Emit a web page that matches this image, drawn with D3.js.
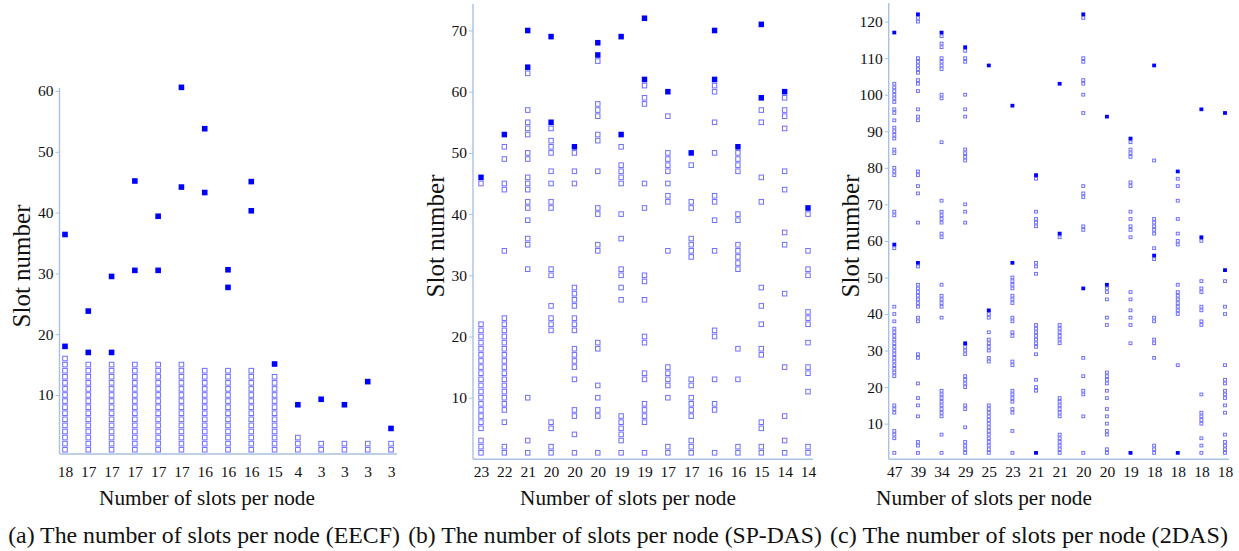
<!DOCTYPE html>
<html>
<head>
<meta charset="utf-8">
<script src="https://cdn.jsdelivr.net/npm/d3@7"></script>
<style>
body { margin: 0; background: #fff; }
svg { display: block; }
text { font-family: "Liberation Serif", "DejaVu Serif", "Noto Serif", "Tinos", "FreeSerif", "Times New Roman", Times, serif; fill: #111; }
</style>
</head>
<body>
<svg id="chart"></svg>
<script>
// ---- data ----
// (a) EECF
var labelsA = [18, 17, 17, 17, 17, 17, 16, 16, 16, 15, 4, 3, 3, 3, 3];
var filledA = [[18, 36.4], [17, 23.8], [17, 29.5], [30.5, 45.2], [30.5, 39.4], [44.2, 60.6],
    [43.3, 53.8], [27.7, 30.6], [40.3, 45.1], [15.1], [8.4], [9.3], [8.4], [12.2], [4.5]];
var hollowA = [
    [1, 2, 3, 4, 5, 6, 7, 8, 9, 10, 11, 12, 13, 14, 15, 16],
    [1, 2, 3, 4, 5, 6, 7, 8, 9, 10, 11, 12, 13, 14, 15],
    [1, 2, 3, 4, 5, 6, 7, 8, 9, 10, 11, 12, 13, 14, 15],
    [1, 2, 3, 4, 5, 6, 7, 8, 9, 10, 11, 12, 13, 14, 15],
    [1, 2, 3, 4, 5, 6, 7, 8, 9, 10, 11, 12, 13, 14, 15],
    [1, 2, 3, 4, 5, 6, 7, 8, 9, 10, 11, 12, 13, 14, 15],
    [1, 2, 3, 4, 5, 6, 7, 8, 9, 10, 11, 12, 13, 14],
    [1, 2, 3, 4, 5, 6, 7, 8, 9, 10, 11, 12, 13, 14],
    [1, 2, 3, 4, 5, 6, 7, 8, 9, 10, 11, 12, 13, 14],
    [1, 2, 3, 4, 5, 6, 7, 8, 9, 10, 11, 12, 13],
    [1, 2, 3], [1, 2], [1, 2], [1, 2], [1, 2]
];
var ticksA = [10, 20, 30, 40, 50, 60];

// (b) SP-DAS
var labelsB = [23, 22, 21, 20, 20, 20, 19, 19, 17, 17, 16, 16, 15, 14, 14];
var filledB = [[46], [53], [70, 64], [69, 55], [51], [68, 66], [69, 53], [72, 62], [60], [50],
    [70, 62], [51], [71, 59], [60], [41]];
var hollowB = [
    [45, 22, 21, 20, 19, 18, 17, 16, 15, 14, 13, 12, 11, 10, 9, 8, 7, 6, 5, 3, 2, 1],
    [51, 49, 45, 44, 34, 23, 22, 21, 20, 19, 18, 17, 16, 15, 14, 13, 12, 11, 10, 9, 8, 6, 2, 1],
    [63, 57, 55, 54, 53, 50, 49, 46, 45, 44, 42, 41, 39, 36, 35, 31, 10, 3, 1],
    [54, 52, 51, 50, 47, 45, 42, 41, 31, 30, 25, 23, 22, 21, 6, 5, 2, 1],
    [50, 47, 45, 28, 27, 26, 25, 23, 22, 21, 18, 17, 16, 15, 13, 8, 7, 4, 1],
    [65, 58, 57, 56, 53, 52, 47, 41, 40, 35, 34, 19, 18, 12, 10, 8, 7, 1],
    [51, 48, 47, 46, 45, 40, 36, 31, 30, 28, 26, 7, 6, 5, 4, 3, 1],
    [61, 59, 58, 45, 41, 30, 29, 26, 20, 19, 14, 13, 9, 8, 7, 6, 1],
    [56, 50, 49, 48, 47, 45, 43, 42, 34, 15, 14, 13, 12, 10, 2, 1],
    [48, 42, 41, 36, 35, 34, 33, 13, 12, 10, 9, 8, 7, 3, 2, 1],
    [61, 60, 55, 50, 43, 42, 39, 34, 21, 20, 13, 9, 8, 1],
    [50, 49, 48, 47, 40, 39, 35, 34, 33, 32, 31, 18, 13, 2, 1],
    [57, 55, 46, 42, 28, 25, 22, 18, 17, 6, 5, 2, 1],
    [59, 57, 56, 54, 47, 44, 37, 35, 27, 15, 7, 3, 1],
    [40, 34, 31, 30, 24, 23, 22, 19, 15, 14, 11, 2, 1]
];
var ticksB = [10, 20, 30, 40, 50, 60, 70];

// (c) 2DAS
var labelsC = [47, 39, 34, 29, 25, 23, 21, 21, 20, 20, 19, 18, 18, 18, 18];
var filledC = [[117, 59], [122, 54], [117], [113, 32], [108, 41], [97, 54], [78, 2], [103, 62],
    [122, 47], [94, 48], [88, 2], [108, 56], [79, 2], [96, 61], [95, 52]];
var hollowC = [
    [103, 102, 101, 100, 99, 98, 96, 95, 93, 91, 90, 89, 88, 85, 84, 80, 79, 78, 68, 67, 58, 42, 40, 38,
        36, 35, 34, 33, 32, 31, 30, 29, 28, 27, 26, 25, 24, 23, 15, 14, 13, 8, 7, 6, 2],
    [121, 120, 110, 109, 108, 107, 106, 104, 103, 101, 96, 94, 93, 79, 78, 75, 73, 65, 53, 48, 47, 46,
        45, 44, 43, 42, 39, 38, 29, 28, 21, 17, 15, 12, 5, 4, 2],
    [116, 114, 113, 110, 109, 108, 107, 100, 99, 87, 71, 68, 67, 66, 65, 62, 61, 48, 45, 44, 43, 42, 39,
        19, 18, 17, 16, 15, 14, 13, 12, 7, 2],
    [112, 110, 109, 100, 96, 94, 85, 84, 83, 82, 70, 68, 65, 31, 30, 29, 23, 22, 21, 20, 15, 14, 9, 5, 4, 3, 2],
    [40, 39, 35, 33, 32, 31, 30, 28, 27, 15, 14, 13, 12, 11, 10, 9, 8, 7, 6, 5, 4, 3, 2],
    [50, 49, 48, 47, 45, 44, 43, 39, 38, 35, 34, 27, 26, 19, 18, 17, 16, 14, 13, 8, 2],
    [77, 68, 66, 65, 64, 54, 53, 51, 37, 36, 35, 34, 33, 32, 31, 29, 22, 20, 19],
    [61, 37, 36, 35, 34, 33, 32, 17, 16, 15, 14, 13, 12, 7, 6, 5, 4, 3, 2],
    [121, 110, 109, 104, 103, 100, 95, 75, 73, 72, 64, 63, 28, 23, 19, 18, 12, 2],
    [47, 46, 44, 39, 37, 24, 23, 22, 21, 19, 17, 14, 12, 10, 8, 7, 3, 2],
    [87, 85, 84, 83, 76, 75, 68, 66, 64, 63, 61, 46, 44, 41, 39, 37, 32],
    [82, 66, 65, 64, 63, 62, 58, 55, 39, 38, 33, 32, 28, 4, 3, 2],
    [77, 75, 71, 66, 62, 60, 59, 48, 46, 45, 44, 43, 42, 41, 40, 26],
    [60, 49, 47, 46, 42, 41, 38, 37, 18, 13, 12, 11, 10, 6, 4, 2],
    [49, 42, 40, 26, 22, 21, 19, 18, 17, 15, 13, 7, 5, 4, 3, 2]
];
var ticksC = [10, 20, 30, 40, 50, 60, 70, 80, 90, 100, 110, 120];

var captions = [
    "(a) The number of slots per node (EECF)",
    "(b) The number of slots per node (SP-DAS)",
    "(c) The number of slots per node (2DAS)"
];

// ---- layout ----
var WIDTH = 1239, HEIGHT = 551;
var AXIS_COLOR = "#a9c1e2";
var FILL_COLOR = "#0000ff";
var HOLLOW_COLOR = "#6f6fff";
var LABEL_BASELINE = 477;

var svg = d3.select("#chart").attr("width", WIDTH).attr("height", HEIGHT);

var panels = [
    {labels: labelsA, filled: filledA, hollow: hollowA, ticks: ticksA, yMax: 60,
     left: 59.5, right: 397, colFirst: 65, colLast: 391, y0: 455.8, yTopPx: 91,
     axisTop: 88, xAxisY: 454, mark: 5.6, markH: 5.6,
     yTitle: [21.7, 266], xTitle: 207, caption: [204, 392]},
    {labels: labelsB, filled: filledB, hollow: hollowB, ticks: ticksB, yMax: 70,
     left: 473, right: 813, colFirst: 481, colLast: 808, y0: 458.9, yTopPx: 30.5,
     axisTop: 4, xAxisY: 459.3, mark: 5.4, markH: 5.6,
     yTitle: [435, 236], xTitle: 628, caption: [615, 414]},
    {labels: labelsC, filled: filledC, hollow: hollowC, ticks: ticksC, yMax: 120,
     left: 888.7, right: 1229, colFirst: 894.3, colLast: 1225, y0: 460.2, yTopPx: 21.6,
     axisTop: 3, xAxisY: 459.3, mark: 3.9, markH: 3.7,
     yTitle: [850, 236], xTitle: 984, caption: [1029, 398]}
];

// scale a text's font size so that it spans the given width
function fitText(sel, width) {
    var fs = parseFloat(sel.attr("font-size"));
    var len = sel.node().getComputedTextLength();
    if (len > 0) sel.attr("font-size", fs * width / len);
    return sel;
}

function drawPanel(p, idx) {
    var g = svg.append("g").attr("class", "panel");

    var x = d3.scalePoint()
        .domain(d3.range(p.labels.length))
        .range([p.colFirst, p.colLast]);
    var y = d3.scaleLinear()
        .domain([0, p.yMax])
        .range([p.y0, p.yTopPx]);

    // axis lines
    g.append("line")
        .attr("x1", p.left).attr("x2", p.left)
        .attr("y1", p.axisTop).attr("y2", p.xAxisY)
        .attr("stroke", AXIS_COLOR).attr("stroke-width", 1.4);
    g.append("line")
        .attr("x1", p.left).attr("x2", p.right)
        .attr("y1", p.xAxisY).attr("y2", p.xAxisY)
        .attr("stroke", AXIS_COLOR).attr("stroke-width", 1.4);

    // y ticks
    var yAxis = g.append("g")
        .attr("transform", "translate(" + p.left + ",0)")
        .call(d3.axisLeft(y).tickValues(p.ticks).tickSize(4).tickPadding(2));
    yAxis.attr("font-family", null).attr("font-size", null);
    yAxis.select(".domain").remove();
    yAxis.selectAll(".tick line").attr("stroke", AXIS_COLOR);
    yAxis.selectAll(".tick text")
        .attr("font-size", 15.5)
        .attr("fill", "#111");

    // x labels (slots per node)
    var fs = 15.5;
    var xAxis = g.append("g")
        .attr("transform", "translate(0," + p.xAxisY + ")")
        .call(d3.axisBottom(x)
            .tickFormat(function(i) { return p.labels[i]; })
            .tickSize(0)
            .tickPadding(LABEL_BASELINE - p.xAxisY - 0.71 * fs));
    xAxis.attr("font-family", null).attr("font-size", null);
    xAxis.select(".domain").remove();
    xAxis.selectAll(".tick text")
        .attr("font-size", fs)
        .attr("fill", "#111");

    // marks: hollow first, filled on top
    var points = [];
    p.hollow.forEach(function(vals, i) {
        vals.forEach(function(v) { points.push({i: i, v: v, filled: false}); });
    });
    p.filled.forEach(function(vals, i) {
        vals.forEach(function(v) { points.push({i: i, v: v, filled: true}); });
    });

    var w = p.mark, h = p.markH;
    g.append("g").selectAll("rect")
        .data(points)
        .join("rect")
        .attr("x", function(d) { return x(d.i) - w / 2 + (d.filled ? 0 : 0.5); })
        .attr("y", function(d) { return y(d.v) - h / 2 + (d.filled ? 0 : 0.5); })
        .attr("width", function(d) { return d.filled ? w : w - 1; })
        .attr("height", function(d) { return d.filled ? h : h - 1; })
        .attr("fill", function(d) { return d.filled ? FILL_COLOR : "#fff"; })
        .attr("stroke", function(d) { return d.filled ? "none" : HOLLOW_COLOR; })
        .attr("stroke-width", 1);

    // titles
    var yt = g.append("text")
        .attr("transform", "translate(" + p.yTitle[0] + "," + p.yTitle[1] + ") rotate(-90)")
        .attr("text-anchor", "middle")
        .attr("dominant-baseline", "central")
        .attr("font-size", 20)
        .text("Slot number");
    fitText(yt, 123);

    var xt = g.append("text")
        .attr("x", p.xTitle)
        .attr("y", 505)
        .attr("text-anchor", "middle")
        .attr("font-size", 20)
        .text("Number of slots per node");
    fitText(xt, 216);

    var cap = g.append("text")
        .attr("x", p.caption[0])
        .attr("y", 543)
        .attr("text-anchor", "middle")
        .attr("font-size", 17)
        .text(captions[idx]);
    fitText(cap, p.caption[1]);
}

panels.forEach(drawPanel);
</script>
</body>
</html>
